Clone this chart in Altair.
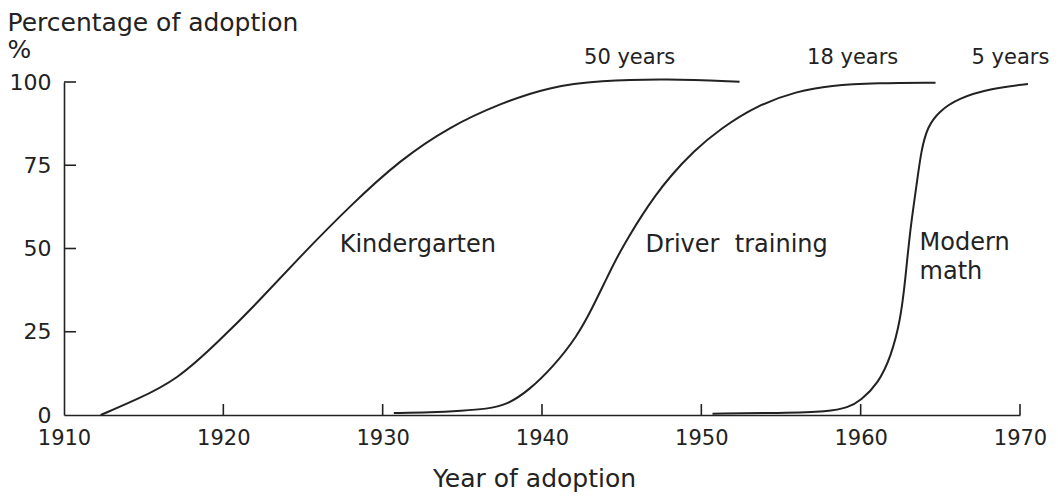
import altair as alt
import pandas as pd

# Kindergarten
k_years = [1912.3, 1914.5, 1917.1, 1919.8, 1922.3, 1924.8, 1928.1, 1931.1, 1934.2, 1937.4, 1940.5, 1943.6, 1947.8, 1952.4]
k_pct = [0.0, 4.5, 10.5, 22.5, 34.5, 47.5, 63.5, 76.6, 86.6, 93.6, 98.6, 100.4, 101.0, 100.1]
# Driver training
d_years = [1930.7, 1933.0, 1935.0, 1936.5, 1937.8, 1939.2, 1940.7, 1942.2, 1943.2, 1944.1, 1944.8, 1945.5,
           1946.3, 1947.1, 1948.0, 1949.5, 1951.2, 1953.5, 1956.0, 1958.1, 1961.0, 1964.7]
d_pct = [0.6, 0.8, 1.3, 1.8, 3.0, 7.5, 14.5, 23.5, 32.5, 41.5, 48.2, 54.0,
         60.2, 65.8, 71.4, 79.2, 86.0, 93.0, 97.2, 99.0, 99.7, 99.8]
# Modern math
m_years = [1950.7, 1955.0, 1958.0, 1959.2, 1960.0, 1961.1, 1961.9, 1962.5, 1962.8, 1963.1, 1963.5,
           1963.8, 1964.2, 1964.9, 1966.1, 1968.2, 1970.5]
m_pct = [0.4, 0.6, 1.0, 2.2, 4.3, 9.5, 17.5, 28.5, 40.5, 55.6, 68.6,
         79.6, 86.6, 91.1, 95.1, 98.1, 99.4]

series_names = ["Kindergarten", "Driver training", "Modern math"]

# Annotations
dur_labels = ["50 years", "18 years", "5 years"]
dur_x = [1945.5, 1959.5, 1969.4]
dur_y = [105.5, 105.5, 105.5]

name_labels = ["Kindergarten", "Driver", "training", "Modern", "math"]
name_x = [1927.3, 1946.5, 1952.1, 1963.7, 1963.7]
name_y = [49.0, 49.0, 49.0, 49.5, 40.8]

x_ticks = [1920, 1930, 1940, 1950, 1960, 1970]
y_ticks = [25, 50, 75, 100]

INK = "#222222"
FONT = "DejaVu Sans"
W, H = 956, 333

rows = []
for name, ys, ps in zip(series_names, [k_years, d_years, m_years], [k_pct, d_pct, m_pct]):
    for yr, p in zip(ys, ps):
        rows.append({"series": name, "year": yr, "pct": p})
df = pd.DataFrame(rows)

xscale = alt.Scale(domain=[1910, 1970], nice=False, zero=False)
yscale = alt.Scale(domain=[0, 100], nice=False)

lines = alt.Chart(df).mark_line(color=INK, strokeWidth=2, interpolate="basis", clip=False).encode(
    x=alt.X("year:Q", scale=xscale,
            axis=alt.Axis(values=[1910, 1920, 1930, 1940, 1950, 1960, 1970], format="d",
                          title="Year of adoption", ticks=False, tickSize=0, grid=False,
                          labelFlush=False, labelOverlap=False,
                          labelPadding=12, labelFontSize=21, labelColor=INK, labelFont=FONT,
                          domainColor=INK, domainWidth=1.6,
                          titleFont=FONT, titleFontSize=25, titleFontWeight="normal", titleColor=INK,
                          titleBaseline="alphabetic", titleY=71, titleX=470)),
    y=alt.Y("pct:Q", scale=yscale,
            axis=alt.Axis(values=[0, 25, 50, 75, 100],
                          title=["Percentage of adoption", "%"],
                          ticks=False, tickSize=0, grid=False, labelOverlap=False,
                          labelPadding=13, labelFontSize=22, labelColor=INK, labelFont=FONT,
                          domainColor=INK, domainWidth=1.6,
                          titleFont=FONT, titleFontSize=25, titleFontWeight="normal", titleColor=INK,
                          titleAngle=0, titleAlign="left", titleBaseline="alphabetic",
                          titleX=-57, titleY=-52, titleLineHeight=27)),
    detail="series:N",
)

xt = alt.Chart(pd.DataFrame({"v": x_ticks})).mark_rule(color=INK, strokeWidth=1.6).encode(
    x=alt.X("v:Q", scale=xscale), y=alt.value(H), y2=alt.value(H - 11))
yt = alt.Chart(pd.DataFrame({"v": y_ticks})).mark_rule(color=INK, strokeWidth=1.6).encode(
    y=alt.Y("v:Q", scale=yscale), x=alt.value(0), x2=alt.value(12))

dur = alt.Chart(pd.DataFrame({"t": dur_labels, "x": dur_x, "y": dur_y})).mark_text(
    font=FONT, fontSize=21, color=INK, align="center", baseline="alphabetic").encode(
    x=alt.X("x:Q", scale=xscale), y=alt.Y("y:Q", scale=yscale), text="t:N")

names = alt.Chart(pd.DataFrame({"t": name_labels, "x": name_x, "y": name_y})).mark_text(
    font=FONT, fontSize=24, color=INK, align="left", baseline="alphabetic").encode(
    x=alt.X("x:Q", scale=xscale), y=alt.Y("y:Q", scale=yscale), text="t:N")

chart = alt.layer(lines, xt, yt, dur, names).properties(
    width=W, height=H, autosize="none", background="white",
    padding={"left": 56, "top": 74, "right": 30, "bottom": 77},
).configure_view(strokeWidth=0)

chart.save("out.html", embed_options={"renderer": "svg", "actions": False})
